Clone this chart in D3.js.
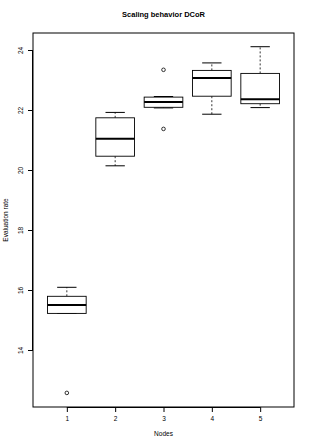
<!DOCTYPE html>
<html>
<head>
<meta charset="utf-8">
<script src="https://cdn.jsdelivr.net/npm/d3@7"></script>
<style>
  html, body { margin: 0; padding: 0; background: #fff; }
  svg { display: block; font-family: "Liberation Sans", Arial, sans-serif; }
</style>
</head>
<body>
<svg id="chart" width="311" height="448"></svg>
<script>
const title = "Scaling behavior DCoR";
const xTitle = "Nodes";
const yTitle = "Evaluation rate";
const nodes = ["1", "2", "3", "4", "5"];
const whiskerLow = [15.22, 20.14, 22.07, 21.86, 22.08];
const q1 = [15.22, 20.46, 22.09, 22.46, 22.21];
const median = [15.50, 21.04, 22.27, 23.07, 22.36];
const q3 = [15.79, 21.74, 22.43, 23.32, 23.22];
const whiskerHigh = [16.09, 21.92, 22.45, 23.57, 24.11];
const outlierNode = ["1", "3", "3"];
const outlierValue = [12.57, 23.34, 21.37];
const yTicks = [14, 16, 18, 20, 22, 24];

(function () {
const svg = d3.select("#chart");
const pLeft = 33, pRight = 294, pTop = 33, pBottom = 407;

const x = d3.scaleLinear().domain([0.3, nodes.length + 0.7]).range([pLeft, pRight]);
const y = d3.scaleLinear().domain([12.1, 24.567]).range([pBottom, pTop]);
const xi = i => x(i + 1);
const unit = x(1) - x(0);
const boxW = 0.8 * unit, capW = 0.4 * unit;

// Title
svg.append("text").attr("x", (pLeft + pRight) / 2).attr("y", 17)
  .attr("text-anchor", "middle").attr("font-size", 7.5).attr("font-weight", "bold")
  .text(title);

// axes
const xAxis = d3.axisBottom(x).tickValues(nodes.map((d, i) => i + 1))
  .tickFormat((d, i) => nodes[i]).tickSize(5).tickPadding(4);
const gx = svg.append("g").attr("transform", `translate(0,${pBottom})`).call(xAxis);
gx.select(".domain").attr("d", `M${xi(0)},0.5H${xi(nodes.length - 1)}`);
gx.selectAll("text").attr("font-size", 6.5).attr("font-family", "Liberation Sans, Arial, sans-serif");

const yAxis = d3.axisLeft(y).tickValues(yTicks).tickSize(5).tickPadding(4);
const gy = svg.append("g").attr("transform", `translate(${pLeft},0)`).call(yAxis);
gy.select(".domain").attr("d", `M-0.5,${y(yTicks[0])}V${y(yTicks[yTicks.length - 1])}`);
gy.selectAll(".tick text")
  .attr("font-size", 6.5).attr("font-family", "Liberation Sans, Arial, sans-serif")
  .attr("text-anchor", "middle").attr("x", null).attr("dy", null)
  .attr("transform", "translate(-10,0) rotate(-90)").attr("y", 0);

// Frame
svg.append("rect").attr("x", pLeft).attr("y", pTop).attr("width", pRight - pLeft).attr("height", pBottom - pTop)
  .attr("fill", "none").attr("stroke", "#000").attr("stroke-width", 1);

// Axis titles
svg.append("text").attr("x", (pLeft + pRight) / 2).attr("y", 436)
  .attr("text-anchor", "middle").attr("font-size", 6.5).text(xTitle);
svg.append("text").attr("transform", `translate(8,${(pTop + pBottom) / 2}) rotate(-90)`)
  .attr("text-anchor", "middle").attr("font-size", 6.5).text(yTitle);

// Boxes
const g = svg.append("g");
nodes.forEach((n, i) => {
  const cx = xi(i);
  g.append("line").attr("x1", cx).attr("x2", cx).attr("y1", y(q3[i])).attr("y2", y(whiskerHigh[i]))
    .attr("stroke", "#000").attr("stroke-width", 0.8).attr("stroke-dasharray", "2,2");
  g.append("line").attr("x1", cx).attr("x2", cx).attr("y1", y(q1[i])).attr("y2", y(whiskerLow[i]))
    .attr("stroke", "#000").attr("stroke-width", 0.8).attr("stroke-dasharray", "2,2");
  [whiskerHigh[i], whiskerLow[i]].forEach(v => {
    g.append("line").attr("x1", cx - capW / 2).attr("x2", cx + capW / 2).attr("y1", y(v)).attr("y2", y(v))
      .attr("stroke", "#000").attr("stroke-width", 1);
  });
  g.append("rect").attr("x", cx - boxW / 2).attr("width", boxW)
    .attr("y", y(q3[i])).attr("height", y(q1[i]) - y(q3[i]))
    .attr("fill", "#fff").attr("stroke", "#000").attr("stroke-width", 0.9);
  g.append("line").attr("x1", cx - boxW / 2).attr("x2", cx + boxW / 2)
    .attr("y1", y(median[i])).attr("y2", y(median[i]))
    .attr("stroke", "#000").attr("stroke-width", 2);
});

outlierNode.forEach((n, k) => {
  const i = nodes.indexOf(n);
  g.append("circle").attr("cx", xi(i)).attr("cy", y(outlierValue[k])).attr("r", 1.8)
    .attr("fill", "none").attr("stroke", "#000").attr("stroke-width", 0.8);
});
})();
</script>
</body>
</html>
